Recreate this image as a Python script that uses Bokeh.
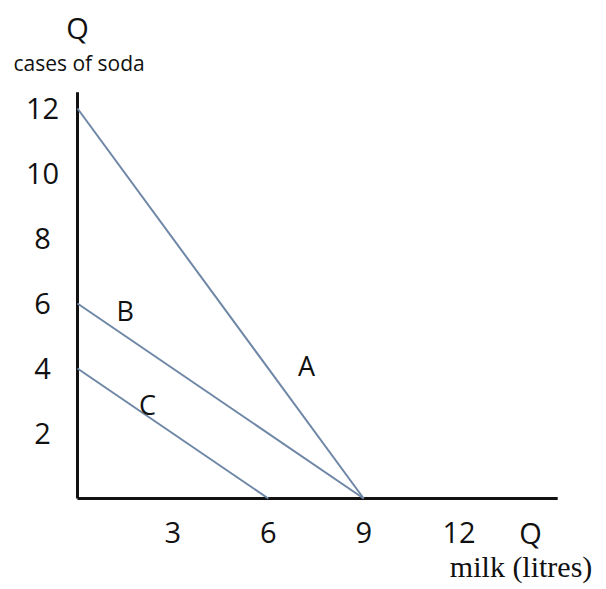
from bokeh.plotting import figure
from bokeh.models import Range1d, ColumnDataSource
from bokeh.core.properties import value
from bokeh.embed import file_html
from bokeh.resources import INLINE

# Budget lines: quantity of milk (x) vs cases of soda (y)
line_names = ["A", "B", "C"]
soda_intercepts = [12, 6, 4]
milk_intercepts = [9, 9, 6]

# Where the letter labels sit along each line (milk, soda)
label_milk = [7.2, 1.5, 2.2]
label_soda = [4.1, 5.8, 2.9]

x_ticks = [3, 6, 9, 12]
y_ticks = [2, 4, 6, 8, 10, 12]

W, H = 606, 589
px_per_x, px_per_y = 31.8, 32.5
origin_px, origin_py = 77, 498

p = figure(width=W, height=H, output_backend="svg", toolbar_location=None,
           x_range=Range1d(-origin_px / px_per_x, (W - origin_px) / px_per_x),
           y_range=Range1d(-(H - origin_py) / px_per_y, origin_py / px_per_y),
           min_border=0, min_border_left=0, min_border_right=0,
           min_border_top=0, min_border_bottom=0,
           x_axis_type=None, y_axis_type=None)
p.outline_line_color = None
p.xgrid.visible = False
p.ygrid.visible = False
p.background_fill_color = "white"

ink = "#111111"
line_col = "#6f87a6"
sans = value("Open Sans")

# Axes drawn as plain strokes
x_end, y_end = 15.1, 12.5
p.segment(x0=[0, 0], y0=[0, 0], x1=[x_end, 0], y1=[0, y_end],
          line_color=ink, line_width=3)

# Budget lines
src = ColumnDataSource(dict(x0=[0] * 3, y0=soda_intercepts,
                            x1=milk_intercepts, y1=[0] * 3))
p.segment(x0="x0", y0="y0", x1="x1", y1="y1", source=src,
          line_color=line_col, line_width=2)

# Line letters
p.text(x=label_milk, y=label_soda, text=line_names, text_font=sans,
       text_font_size="27px", text_color=ink,
       text_align="center", text_baseline="middle")

# Tick labels
p.text(x=x_ticks, y=[-1.05] * len(x_ticks), text=[str(t) for t in x_ticks],
       text_font=sans, text_font_size="29px", text_color=ink,
       text_align="center", text_baseline="middle")
p.text(x=[-1.1] * len(y_ticks), y=y_ticks, text=[str(t) for t in y_ticks],
       text_font=sans, text_font_size="29px", text_color=ink,
       text_align="center", text_baseline="middle")

# Axis titles
p.text(x=[14.25], y=[-1.05], text=["Q"], text_font=sans,
       text_font_size="29px", text_color=ink,
       text_align="center", text_baseline="middle")
p.text(x=[13.95], y=[-2.08], text=["milk (litres)"],
       text_font=value("Liberation Serif"), text_font_size="30px",
       text_color=ink, text_align="center", text_baseline="middle")
p.text(x=[0.0], y=[14.5], text=["Q"], text_font=sans,
       text_font_size="29px", text_color=ink,
       text_align="center", text_baseline="middle")
p.text(x=[0.05], y=[13.4], text=["cases of soda"], text_font=sans,
       text_font_size="21px", text_color=ink,
       text_align="center", text_baseline="middle")

open("out.html", "w").write(file_html(p, INLINE))
